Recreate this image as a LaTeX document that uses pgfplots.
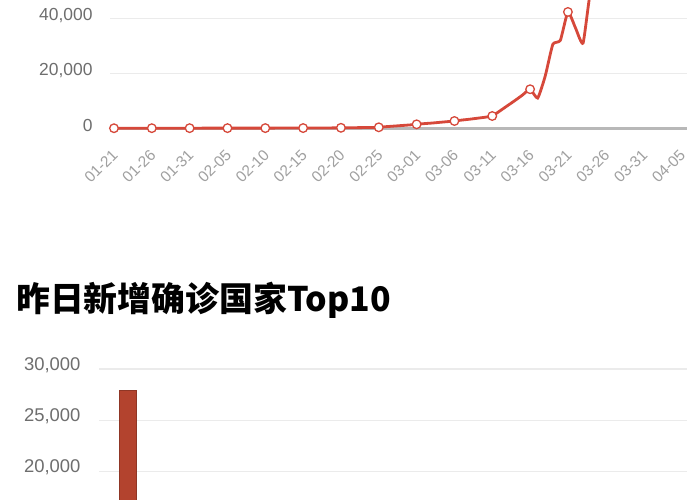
\documentclass[border=0pt]{standalone}
\usepackage{fontspec}
\setmainfont{Liberation Sans}
\newfontfamily\cjk{Noto Sans CJK SC}
\usepackage{pgfplots}
\pgfplotsset{compat=1.18}
\definecolor{linered}{HTML}{D6483A}
\definecolor{barred}{HTML}{B3432E}
\definecolor{gridgray}{HTML}{EBEBEB}
\definecolor{axisgray}{HTML}{B8B8B8}
\definecolor{ylabgray}{HTML}{6E6E6E}
\definecolor{xlabgray}{HTML}{A0A0A0}
\begin{document}
\begin{tikzpicture}
\useasboundingbox (0,0) rectangle (700bp,500bp);
\clip (0,0) rectangle (700bp,500bp);
\fill[white] (0,0) rectangle (700bp,500bp);
% ---------- top line chart ----------
\begin{axis}[
  at={(110.2bp,371.7bp)}, anchor=south west,
  scale only axis, width=576.5bp, height=128.3bp,
  xmin=-0.5, xmax=75.7, ymin=0, ymax=46650,
  clip=false,
  axis line style={draw=none},
  major tick length=0pt,
  ytick={0,20000,40000},
  ymajorgrids, grid style={gridgray, line width=1.3bp},
  extra y ticks={0}, extra y tick labels={},
  extra y tick style={grid style={axisgray, line width=2.5bp}},
  scaled y ticks=false,
  /pgf/number format/.cd, 1000 sep={,}, assume math mode=true,
  /pgfplots/.cd,
  yticklabel style={font=\fontsize{17.5}{17.5}\selectfont, text=ylabgray, anchor=east, inner sep=0pt, xshift=-17.5bp, yshift=3bp},
  xtick={0,5,...,75},
  xticklabels={01-21,01-26,01-31,02-05,02-10,02-15,02-20,02-25,03-01,03-06,03-11,03-16,03-21,03-26,03-31,04-05},
  xticklabel style={font=\fontsize{15.5}{15.5}\selectfont, text=xlabgray, rotate=45, anchor=north east, inner sep=0pt, xshift=-16bp, yshift=-12bp},
]
\addplot[linered, line width=2.8bp, smooth, tension=0.3,
  mark=*, mark repeat=5, mark phase=1, mark size=4.3bp,
  mark options={fill=white, draw=linered, line width=1.3bp, solid}]
coordinates {
(0,20)(1,25)(2,30)(3,30)(4,35)(5,40)(6,40)(7,45)(8,45)(9,50)
(10,50)(11,50)(12,55)(13,55)(14,60)(15,60)(16,60)(17,65)(18,65)(19,70)
(20,70)(21,70)(22,75)(23,75)(24,80)(25,80)(26,90)(27,100)(28,120)(29,150)
(30,180)(31,200)(32,230)(33,260)(34,300)(35,360)
(36,600)(37,800)(38,1000)(39,1200)(40,1450)
(41,1700)(42,1900)(43,2150)(44,2400)(45,2650)
(46,3000)(47,3300)(48,3650)(49,4000)(50,4470)
(51,6300)(52,8200)(53,10100)(54,12100)(55,14200)
(56,11000)(57,19000)(58,30500)(59,32000)(60,42300)
(61,36500)(62,31000)(63,50000)(64,47300)(65,48600)
(66,55000)(67,58000)(68,62000)(69,64000)(70,66000)
(71,70000)(72,72000)(73,75000)(74,78000)(75,80000)
};
\end{axis}
% ---------- title ----------
\node[anchor=base west, inner sep=0pt] at (16bp,188bp)
  {\fontsize{34}{34}\selectfont\cjk\bfseries 昨日新增确诊国家Top10};
% ---------- bottom bar chart ----------
\begin{axis}[
  at={(99bp,-177bp)}, anchor=south west,
  scale only axis, width=587.7bp, height=308bp,
  xmin=-0.5, xmax=9.5, ymin=0, ymax=30000,
  axis line style={draw=none},
  major tick length=0pt,
  xtick=\empty,
  ytick={0,5000,...,30000},
  ymajorgrids, grid style={gridgray, line width=1.3bp},
  scaled y ticks=false,
  /pgf/number format/.cd, 1000 sep={,}, assume math mode=true,
  /pgfplots/.cd,
  yticklabel style={font=\fontsize{18.5}{18.5}\selectfont, text=ylabgray, anchor=east, inner sep=0pt, xshift=-18.3bp, yshift=4bp},
  ybar, bar width=17bp,
]
\addplot[fill=barred, draw=barred!80!black, line width=0.8bp] coordinates {(0,27900)};
\end{axis}
\end{tikzpicture}
\end{document}
